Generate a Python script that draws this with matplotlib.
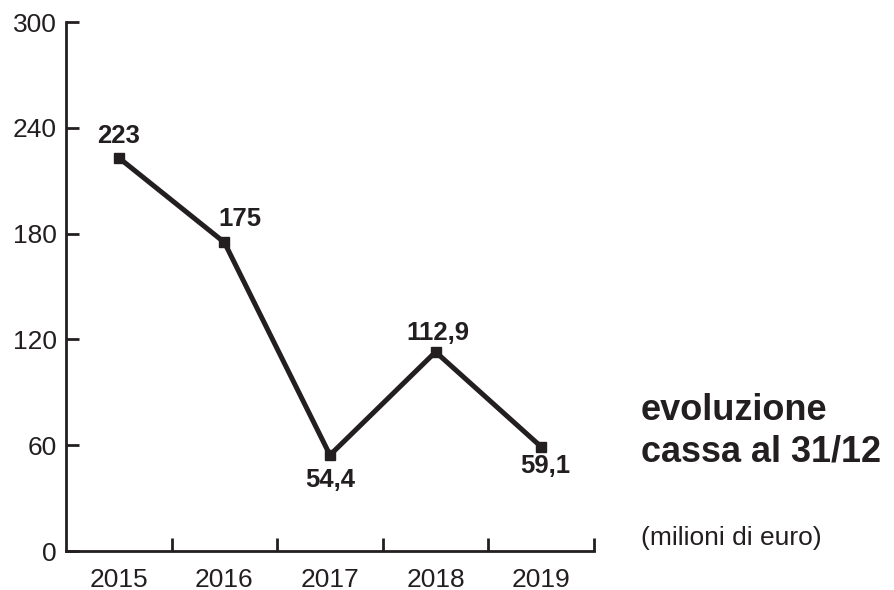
import matplotlib

matplotlib.use('Agg')
import matplotlib.pyplot as plt
from matplotlib.ticker import FixedLocator, NullFormatter

# ── data ────────────────────────────────────────────────────────────────
YEARS = ['2015', '2016', '2017', '2018', '2019']
CASSA = [223, 175, 54.4, 112.9, 59.1]
LABELS = ['223', '175', '54,4', '112,9', '59,1']
YTICKS = [0, 60, 120, 180, 240, 300]

INK = '#231f20'
plt.rcParams['font.family'] = ['Liberation Sans', 'DejaVu Sans']

fig = plt.figure(figsize=(8.94, 5.90), dpi=100)
ax = fig.add_axes([0.0738, 0.0661, 0.5906, 0.8966])

xs = list(range(len(YEARS)))
ax.plot(xs, CASSA, color=INK, lw=3.6, marker='s', ms=6.5, mec=INK, mfc=INK,
        solid_joinstyle='miter', clip_on=False)

# label offsets (points) relative to each marker
offsets = [(0, 16), (11.5, 17), (0.5, -18), (1.5, 13.5), (3, -14)]
for x, v, lab, off in zip(xs, CASSA, LABELS, offsets):
    ax.annotate(lab, (x, v), xytext=off, textcoords='offset points',
                ha='center', va='center', fontsize=18.5, fontweight='bold', color=INK)

ax.set_xlim(-0.5, len(YEARS) - 0.5)
ax.set_ylim(0, 300)
ax.set_yticks(YTICKS)
ax.tick_params(axis='y', direction='in', length=9.5, width=2, colors=INK,
               labelsize=19, pad=6.5)

# category boundaries get tick marks, year labels sit in between
ax.xaxis.set_major_locator(FixedLocator([i + 0.5 for i in xs]))
ax.xaxis.set_major_formatter(NullFormatter())
ax.xaxis.set_minor_locator(FixedLocator(xs))
ax.set_xticklabels(YEARS, minor=True)
ax.tick_params(axis='x', which='major', direction='in', length=9.5, width=2, colors=INK)
ax.tick_params(axis='x', which='minor', length=0, labelsize=19, pad=12, labelcolor=INK)

for sp in ('top', 'right'):
    ax.spines[sp].set_visible(False)
for sp in ('left', 'bottom'):
    ax.spines[sp].set_linewidth(2)
    ax.spines[sp].set_color(INK)

fig.text(0.717, 0.288, 'evoluzione', fontsize=26, fontweight='bold',
         color=INK, ha='left', va='baseline')
fig.text(0.717, 0.217, 'cassa al 31/12', fontsize=26, fontweight='bold',
         color=INK, ha='left', va='baseline')
fig.text(0.717, 0.088, '(milioni di euro)', fontsize=19, color=INK,
         ha='left', va='center')

fig.savefig('out.png', dpi=100)
